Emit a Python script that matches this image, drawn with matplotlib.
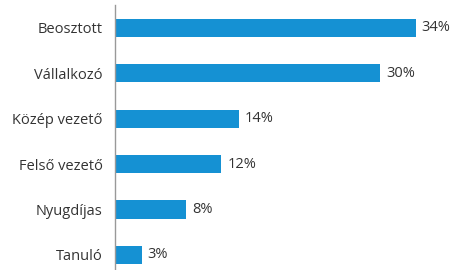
import matplotlib
matplotlib.use("Agg")
import matplotlib.pyplot as plt

categories = ["Beosztott", "Vállalkozó", "Közép vezető", "Felső vezető", "Nyugdíjas", "Tanuló"]
values = [34, 30, 14, 12, 8, 3]

plt.rcParams["font.family"] = ["Open Sans", "DejaVu Sans"]

fig = plt.figure(figsize=(4.52, 2.70), dpi=100)
ax = fig.add_axes([115 / 452, 0.0, 335 / 452, 265 / 270])

pos = list(range(len(categories)))
ax.barh(pos, values, height=0.4, color="#1591d3")
for p, v in zip(pos, values):
    ax.text(v + 0.7, p, f"{v}%", va="center", ha="left", fontsize=10.5, color="#333333")

ax.set_xlim(0, 37.9)
ax.set_ylim(5.33, -0.5)
ax.set_yticks(pos)
ax.set_yticklabels(categories, fontsize=10.5, color="#333333")
ax.tick_params(axis="y", length=0, pad=9)
ax.set_xticks([])
for s in ["top", "right", "bottom"]:
    ax.spines[s].set_visible(False)
ax.spines["left"].set_color("#999999")
ax.spines["left"].set_linewidth(1)

fig.savefig("out.png", dpi=100)
